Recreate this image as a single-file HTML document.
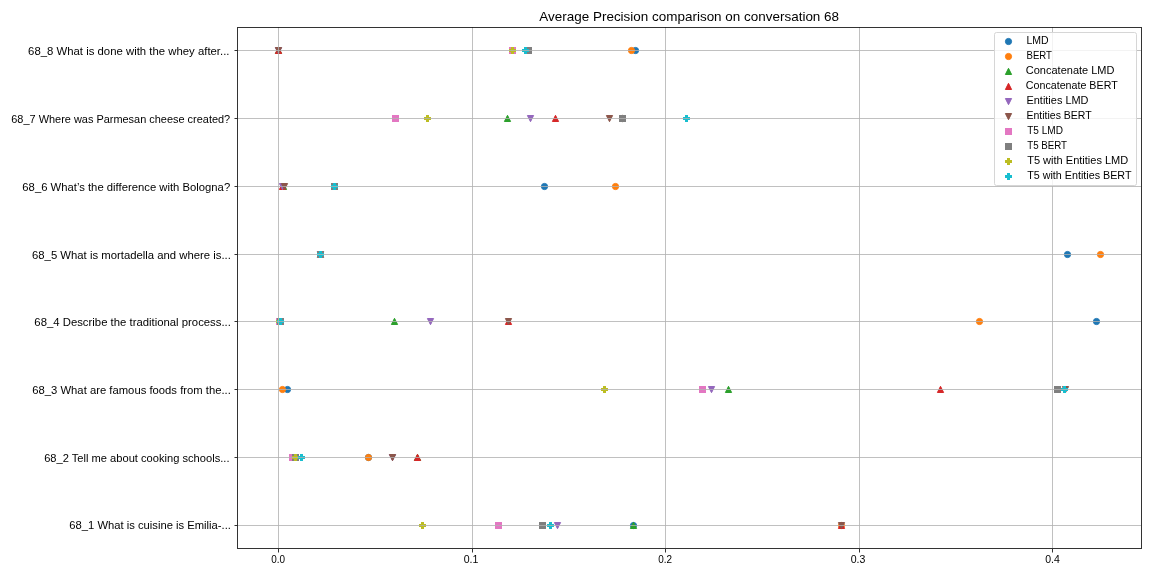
<!DOCTYPE html>
<html><head><meta charset="utf-8"><title>Average Precision comparison on conversation 68</title>
<style>html,body{margin:0;padding:0;background:#fff;overflow:hidden}svg{display:block}text{font-family:"Liberation Sans",sans-serif;fill:#000}</style></head><body>
<svg width="1152" height="576" viewBox="0 0 1152 576">
<defs><filter id="nf" x="0" y="0" width="1152" height="576" filterUnits="userSpaceOnUse"><feOffset dx="0" dy="0"/></filter></defs>
<rect x="0" y="0" width="1152" height="576" fill="#fff"/>
<g>
<circle cx="633.5" cy="525.5" r="3.1" fill="#1f77b4" stroke="#1f77b4" stroke-width="1" stroke-linejoin="round"/>
<circle cx="368.5" cy="457.5" r="3.1" fill="#1f77b4" stroke="#1f77b4" stroke-width="1" stroke-linejoin="round"/>
<circle cx="287.5" cy="389.5" r="3.1" fill="#1f77b4" stroke="#1f77b4" stroke-width="1" stroke-linejoin="round"/>
<circle cx="1096.5" cy="321.5" r="3.1" fill="#1f77b4" stroke="#1f77b4" stroke-width="1" stroke-linejoin="round"/>
<circle cx="1067.5" cy="254.5" r="3.1" fill="#1f77b4" stroke="#1f77b4" stroke-width="1" stroke-linejoin="round"/>
<circle cx="544.5" cy="186.5" r="3.1" fill="#1f77b4" stroke="#1f77b4" stroke-width="1" stroke-linejoin="round"/>
<circle cx="622.5" cy="118.5" r="3.1" fill="#1f77b4" stroke="#1f77b4" stroke-width="1" stroke-linejoin="round"/>
<circle cx="635.5" cy="50.5" r="3.1" fill="#1f77b4" stroke="#1f77b4" stroke-width="1" stroke-linejoin="round"/>
<circle cx="841.5" cy="525.5" r="3.1" fill="#ff7f0e" stroke="#ff7f0e" stroke-width="1" stroke-linejoin="round"/>
<circle cx="368.5" cy="457.5" r="3.1" fill="#ff7f0e" stroke="#ff7f0e" stroke-width="1" stroke-linejoin="round"/>
<circle cx="282.5" cy="389.5" r="3.1" fill="#ff7f0e" stroke="#ff7f0e" stroke-width="1" stroke-linejoin="round"/>
<circle cx="979.5" cy="321.5" r="3.1" fill="#ff7f0e" stroke="#ff7f0e" stroke-width="1" stroke-linejoin="round"/>
<circle cx="1100.5" cy="254.5" r="3.1" fill="#ff7f0e" stroke="#ff7f0e" stroke-width="1" stroke-linejoin="round"/>
<circle cx="615.5" cy="186.5" r="3.1" fill="#ff7f0e" stroke="#ff7f0e" stroke-width="1" stroke-linejoin="round"/>
<circle cx="622.5" cy="118.5" r="3.1" fill="#ff7f0e" stroke="#ff7f0e" stroke-width="1" stroke-linejoin="round"/>
<circle cx="631.5" cy="50.5" r="3.1" fill="#ff7f0e" stroke="#ff7f0e" stroke-width="1" stroke-linejoin="round"/>
<path d="M633.5 522.3L630.4 528.5L636.6 528.5Z" fill="#2ca02c" stroke="#2ca02c" stroke-width="1" stroke-linejoin="round"/>
<path d="M417.5 454.3L414.4 460.5L420.6 460.5Z" fill="#2ca02c" stroke="#2ca02c" stroke-width="1" stroke-linejoin="round"/>
<path d="M728.5 386.3L725.4 392.5L731.6 392.5Z" fill="#2ca02c" stroke="#2ca02c" stroke-width="1" stroke-linejoin="round"/>
<path d="M394.5 318.3L391.4 324.5L397.6 324.5Z" fill="#2ca02c" stroke="#2ca02c" stroke-width="1" stroke-linejoin="round"/>
<path d="M320.5 251.3L317.4 257.5L323.6 257.5Z" fill="#2ca02c" stroke="#2ca02c" stroke-width="1" stroke-linejoin="round"/>
<path d="M283.5 183.3L280.4 189.5L286.6 189.5Z" fill="#2ca02c" stroke="#2ca02c" stroke-width="1" stroke-linejoin="round"/>
<path d="M507.5 115.3L504.4 121.5L510.6 121.5Z" fill="#2ca02c" stroke="#2ca02c" stroke-width="1" stroke-linejoin="round"/>
<path d="M278.5 47.3L275.4 53.5L281.6 53.5Z" fill="#2ca02c" stroke="#2ca02c" stroke-width="1" stroke-linejoin="round"/>
<path d="M841.5 522.3L838.4 528.5L844.6 528.5Z" fill="#d62728" stroke="#d62728" stroke-width="1" stroke-linejoin="round"/>
<path d="M417.5 454.3L414.4 460.5L420.6 460.5Z" fill="#d62728" stroke="#d62728" stroke-width="1" stroke-linejoin="round"/>
<path d="M940.5 386.3L937.4 392.5L943.6 392.5Z" fill="#d62728" stroke="#d62728" stroke-width="1" stroke-linejoin="round"/>
<path d="M508.5 318.3L505.4 324.5L511.6 324.5Z" fill="#d62728" stroke="#d62728" stroke-width="1" stroke-linejoin="round"/>
<path d="M320.5 251.3L317.4 257.5L323.6 257.5Z" fill="#d62728" stroke="#d62728" stroke-width="1" stroke-linejoin="round"/>
<path d="M282.5 183.3L279.4 189.5L285.6 189.5Z" fill="#d62728" stroke="#d62728" stroke-width="1" stroke-linejoin="round"/>
<path d="M555.5 115.3L552.4 121.5L558.6 121.5Z" fill="#d62728" stroke="#d62728" stroke-width="1" stroke-linejoin="round"/>
<path d="M278.5 47.3L275.4 53.5L281.6 53.5Z" fill="#d62728" stroke="#d62728" stroke-width="1" stroke-linejoin="round"/>
<path d="M557.5 528.7L554.4 522.5L560.6 522.5Z" fill="#9467bd" stroke="#9467bd" stroke-width="1" stroke-linejoin="round"/>
<path d="M392.5 460.7L389.4 454.5L395.6 454.5Z" fill="#9467bd" stroke="#9467bd" stroke-width="1" stroke-linejoin="round"/>
<path d="M711.5 392.7L708.4 386.5L714.6 386.5Z" fill="#9467bd" stroke="#9467bd" stroke-width="1" stroke-linejoin="round"/>
<path d="M430.5 324.7L427.4 318.5L433.6 318.5Z" fill="#9467bd" stroke="#9467bd" stroke-width="1" stroke-linejoin="round"/>
<path d="M320.5 257.7L317.4 251.5L323.6 251.5Z" fill="#9467bd" stroke="#9467bd" stroke-width="1" stroke-linejoin="round"/>
<path d="M282.5 189.7L279.4 183.5L285.6 183.5Z" fill="#9467bd" stroke="#9467bd" stroke-width="1" stroke-linejoin="round"/>
<path d="M530.5 121.7L527.4 115.5L533.6 115.5Z" fill="#9467bd" stroke="#9467bd" stroke-width="1" stroke-linejoin="round"/>
<path d="M278.5 53.7L275.4 47.5L281.6 47.5Z" fill="#9467bd" stroke="#9467bd" stroke-width="1" stroke-linejoin="round"/>
<path d="M841.5 528.7L838.4 522.5L844.6 522.5Z" fill="#8c564b" stroke="#8c564b" stroke-width="1" stroke-linejoin="round"/>
<path d="M392.5 460.7L389.4 454.5L395.6 454.5Z" fill="#8c564b" stroke="#8c564b" stroke-width="1" stroke-linejoin="round"/>
<path d="M1065.5 392.7L1062.4 386.5L1068.6 386.5Z" fill="#8c564b" stroke="#8c564b" stroke-width="1" stroke-linejoin="round"/>
<path d="M508.5 324.7L505.4 318.5L511.6 318.5Z" fill="#8c564b" stroke="#8c564b" stroke-width="1" stroke-linejoin="round"/>
<path d="M320.5 257.7L317.4 251.5L323.6 251.5Z" fill="#8c564b" stroke="#8c564b" stroke-width="1" stroke-linejoin="round"/>
<path d="M284.5 189.7L281.4 183.5L287.6 183.5Z" fill="#8c564b" stroke="#8c564b" stroke-width="1" stroke-linejoin="round"/>
<path d="M609.5 121.7L606.4 115.5L612.6 115.5Z" fill="#8c564b" stroke="#8c564b" stroke-width="1" stroke-linejoin="round"/>
<path d="M278.5 53.7L275.4 47.5L281.6 47.5Z" fill="#8c564b" stroke="#8c564b" stroke-width="1" stroke-linejoin="round"/>
<rect x="495" y="522" width="7" height="7" fill="#e377c2"/>
<rect x="289" y="454" width="7" height="7" fill="#e377c2"/>
<rect x="699" y="386" width="7" height="7" fill="#e377c2"/>
<rect x="276" y="318" width="7" height="7" fill="#e377c2"/>
<rect x="317" y="251" width="7" height="7" fill="#e377c2"/>
<rect x="331" y="183" width="7" height="7" fill="#e377c2"/>
<rect x="392" y="115" width="7" height="7" fill="#e377c2"/>
<rect x="509" y="47" width="7" height="7" fill="#e377c2"/>
<rect x="539" y="522" width="7" height="7" fill="#7f7f7f"/>
<rect x="292" y="454" width="7" height="7" fill="#7f7f7f"/>
<rect x="1054" y="386" width="7" height="7" fill="#7f7f7f"/>
<rect x="277" y="318" width="7" height="7" fill="#7f7f7f"/>
<rect x="317" y="251" width="7" height="7" fill="#7f7f7f"/>
<rect x="331" y="183" width="7" height="7" fill="#7f7f7f"/>
<rect x="619" y="115" width="7" height="7" fill="#7f7f7f"/>
<rect x="525" y="47" width="7" height="7" fill="#7f7f7f"/>
<path d="M421 522L424 522L424 524L426 524L426 527L424 527L424 529L421 529L421 527L419 527L419 524L421 524Z" fill="#bcbd22"/>
<path d="M294 454L297 454L297 456L299 456L299 459L297 459L297 461L294 461L294 459L292 459L292 456L294 456Z" fill="#bcbd22"/>
<path d="M603 386L606 386L606 388L608 388L608 391L606 391L606 393L603 393L603 391L601 391L601 388L603 388Z" fill="#bcbd22"/>
<path d="M278 318L281 318L281 320L283 320L283 323L281 323L281 325L278 325L278 323L276 323L276 320L278 320Z" fill="#bcbd22"/>
<path d="M319 251L322 251L322 253L324 253L324 256L322 256L322 258L319 258L319 256L317 256L317 253L319 253Z" fill="#bcbd22"/>
<path d="M333 183L336 183L336 185L338 185L338 188L336 188L336 190L333 190L333 188L331 188L331 185L333 185Z" fill="#bcbd22"/>
<path d="M426 115L429 115L429 117L431 117L431 120L429 120L429 122L426 122L426 120L424 120L424 117L426 117Z" fill="#bcbd22"/>
<path d="M511 47L514 47L514 49L516 49L516 52L514 52L514 54L511 54L511 52L509 52L509 49L511 49Z" fill="#bcbd22"/>
<path d="M549 522L552 522L552 524L554 524L554 527L552 527L552 529L549 529L549 527L547 527L547 524L549 524Z" fill="#17becf"/>
<path d="M300 454L303 454L303 456L305 456L305 459L303 459L303 461L300 461L300 459L298 459L298 456L300 456Z" fill="#17becf"/>
<path d="M1063 386L1066 386L1066 388L1068 388L1068 391L1066 391L1066 393L1063 393L1063 391L1061 391L1061 388L1063 388Z" fill="#17becf"/>
<path d="M279 318L282 318L282 320L284 320L284 323L282 323L282 325L279 325L279 323L277 323L277 320L279 320Z" fill="#17becf"/>
<path d="M319 251L322 251L322 253L324 253L324 256L322 256L322 258L319 258L319 256L317 256L317 253L319 253Z" fill="#17becf"/>
<path d="M333 183L336 183L336 185L338 185L338 188L336 188L336 190L333 190L333 188L331 188L331 185L333 185Z" fill="#17becf"/>
<path d="M685 115L688 115L688 117L690 117L690 120L688 120L688 122L685 122L685 120L683 120L683 117L685 117Z" fill="#17becf"/>
<path d="M524 47L527 47L527 49L529 49L529 52L527 52L527 54L524 54L524 52L522 52L522 49L524 49Z" fill="#17becf"/>
</g>
<g fill="#b0b0b0" fill-opacity="0.8">
<rect x="278" y="27" width="1" height="521"/>
<rect x="472" y="27" width="1" height="521"/>
<rect x="665" y="27" width="1" height="521"/>
<rect x="859" y="27" width="1" height="521"/>
<rect x="1052" y="27" width="1" height="521"/>
<rect x="237" y="525" width="904" height="1"/>
<rect x="237" y="457" width="904" height="1"/>
<rect x="237" y="389" width="904" height="1"/>
<rect x="237" y="321" width="904" height="1"/>
<rect x="237" y="254" width="904" height="1"/>
<rect x="237" y="186" width="904" height="1"/>
<rect x="237" y="118" width="904" height="1"/>
<rect x="237" y="50" width="904" height="1"/>
</g>
<g fill="#000" fill-opacity="0.8">
<rect x="278" y="549" width="1" height="3"/><rect x="278" y="552" width="1" height="1" fill-opacity="0.4"/>
<rect x="472" y="549" width="1" height="3"/><rect x="472" y="552" width="1" height="1" fill-opacity="0.4"/>
<rect x="665" y="549" width="1" height="3"/><rect x="665" y="552" width="1" height="1" fill-opacity="0.4"/>
<rect x="859" y="549" width="1" height="3"/><rect x="859" y="552" width="1" height="1" fill-opacity="0.4"/>
<rect x="1052" y="549" width="1" height="3"/><rect x="1052" y="552" width="1" height="1" fill-opacity="0.4"/>
<rect x="235" y="525" width="2" height="1"/><rect x="234" y="525" width="1" height="1" fill-opacity="0.4"/>
<rect x="235" y="457" width="2" height="1"/><rect x="234" y="457" width="1" height="1" fill-opacity="0.4"/>
<rect x="235" y="389" width="2" height="1"/><rect x="234" y="389" width="1" height="1" fill-opacity="0.4"/>
<rect x="235" y="321" width="2" height="1"/><rect x="234" y="321" width="1" height="1" fill-opacity="0.4"/>
<rect x="235" y="254" width="2" height="1"/><rect x="234" y="254" width="1" height="1" fill-opacity="0.4"/>
<rect x="235" y="186" width="2" height="1"/><rect x="234" y="186" width="1" height="1" fill-opacity="0.4"/>
<rect x="235" y="118" width="2" height="1"/><rect x="234" y="118" width="1" height="1" fill-opacity="0.4"/>
<rect x="235" y="50" width="2" height="1"/><rect x="234" y="50" width="1" height="1" fill-opacity="0.4"/>
<rect x="237" y="27" width="905" height="1"/><rect x="237" y="548" width="905" height="1"/><rect x="237" y="28" width="1" height="520"/><rect x="1141" y="28" width="1" height="520"/>
</g>
<g filter="url(#nf)">
<text x="230.9" y="529" font-size="10.5" text-anchor="end" textLength="161.57" lengthAdjust="spacingAndGlyphs">68_1 What is cuisine is Emilia-...</text>
<text x="229.5" y="462" font-size="10.5" text-anchor="end" textLength="185.33" lengthAdjust="spacingAndGlyphs">68_2 Tell me about cooking schools...</text>
<text x="230.9" y="394" font-size="10.5" text-anchor="end" textLength="198.64" lengthAdjust="spacingAndGlyphs">68_3 What are famous foods from the...</text>
<text x="230.9" y="326" font-size="10.5" text-anchor="end" textLength="196.54" lengthAdjust="spacingAndGlyphs">68_4 Describe the traditional process...</text>
<text x="230.9" y="259" font-size="10.5" text-anchor="end" textLength="198.89" lengthAdjust="spacingAndGlyphs">68_5 What is mortadella and where is...</text>
<text x="230.2" y="191" font-size="10.5" text-anchor="end" textLength="207.86" lengthAdjust="spacingAndGlyphs">68_6 What’s the difference with Bologna?</text>
<text x="230.2" y="123" font-size="10.5" text-anchor="end" textLength="218.93" lengthAdjust="spacingAndGlyphs">68_7 Where was Parmesan cheese created?</text>
<text x="229.5" y="55" font-size="10.5" text-anchor="end" textLength="201.42" lengthAdjust="spacingAndGlyphs">68_8 What is done with the whey after...</text>
<text x="278.15" y="563" font-size="10.5" text-anchor="middle" textLength="13.83" lengthAdjust="spacingAndGlyphs">0.0</text>
<text x="471.1" y="563" font-size="10.5" text-anchor="middle" textLength="14.68" lengthAdjust="spacingAndGlyphs">0.1</text>
<text x="665.15" y="563" font-size="10.5" text-anchor="middle" textLength="13.83" lengthAdjust="spacingAndGlyphs">0.2</text>
<text x="858.1" y="563" font-size="10.5" text-anchor="middle" textLength="14.68" lengthAdjust="spacingAndGlyphs">0.3</text>
<text x="1052.5" y="563" font-size="10.5" text-anchor="middle" textLength="14.61" lengthAdjust="spacingAndGlyphs">0.4</text>
<text x="689.2" y="21" font-size="12.8" text-anchor="middle" textLength="299.74" lengthAdjust="spacingAndGlyphs">Average Precision comparison on conversation 68</text>
</g>
<rect x="994.5" y="32.5" width="142" height="153" rx="2" ry="2" fill="#fff" fill-opacity="0.8" stroke="#d6d6d6" stroke-width="1"/>
<circle cx="1008.5" cy="41.5" r="3.1" fill="#1f77b4" stroke="#1f77b4" stroke-width="1" stroke-linejoin="round"/>
<circle cx="1008.5" cy="56.5" r="3.1" fill="#ff7f0e" stroke="#ff7f0e" stroke-width="1" stroke-linejoin="round"/>
<path d="M1008.5 68.3L1005.4 74.5L1011.6 74.5Z" fill="#2ca02c" stroke="#2ca02c" stroke-width="1" stroke-linejoin="round"/>
<path d="M1008.5 83.3L1005.4 89.5L1011.6 89.5Z" fill="#d62728" stroke="#d62728" stroke-width="1" stroke-linejoin="round"/>
<path d="M1008.5 104.7L1005.4 98.5L1011.6 98.5Z" fill="#9467bd" stroke="#9467bd" stroke-width="1" stroke-linejoin="round"/>
<path d="M1008.5 119.7L1005.4 113.5L1011.6 113.5Z" fill="#8c564b" stroke="#8c564b" stroke-width="1" stroke-linejoin="round"/>
<rect x="1005" y="128" width="7" height="7" fill="#e377c2"/>
<rect x="1005" y="143" width="7" height="7" fill="#7f7f7f"/>
<path d="M1007 158L1010 158L1010 160L1012 160L1012 163L1010 163L1010 165L1007 165L1007 163L1005 163L1005 160L1007 160Z" fill="#bcbd22"/>
<path d="M1007 173L1010 173L1010 175L1012 175L1012 178L1010 178L1010 180L1007 180L1007 178L1005 178L1005 175L1007 175Z" fill="#17becf"/>
<g filter="url(#nf)">
<text x="1026.5" y="44" font-size="10.5" textLength="22.17" lengthAdjust="spacingAndGlyphs">LMD</text>
<text x="1026.5" y="59" font-size="10.5" textLength="25.44" lengthAdjust="spacingAndGlyphs">BERT</text>
<text x="1025.8" y="74" font-size="10.5" textLength="88.68" lengthAdjust="spacingAndGlyphs">Concatenate LMD</text>
<text x="1025.8" y="89" font-size="10.5" textLength="91.89" lengthAdjust="spacingAndGlyphs">Concatenate BERT</text>
<text x="1026.5" y="104" font-size="10.5" textLength="61.97" lengthAdjust="spacingAndGlyphs">Entities LMD</text>
<text x="1026.5" y="119" font-size="10.5" textLength="65.17" lengthAdjust="spacingAndGlyphs">Entities BERT</text>
<text x="1027.2" y="134" font-size="10.5" textLength="35.77" lengthAdjust="spacingAndGlyphs">T5 LMD</text>
<text x="1027.2" y="149" font-size="10.5" textLength="39.86" lengthAdjust="spacingAndGlyphs">T5 BERT</text>
<text x="1027.2" y="164" font-size="10.5" textLength="101.07" lengthAdjust="spacingAndGlyphs">T5 with Entities LMD</text>
<text x="1027.2" y="179" font-size="10.5" textLength="104.32" lengthAdjust="spacingAndGlyphs">T5 with Entities BERT</text>
</g>
</svg></body></html>
